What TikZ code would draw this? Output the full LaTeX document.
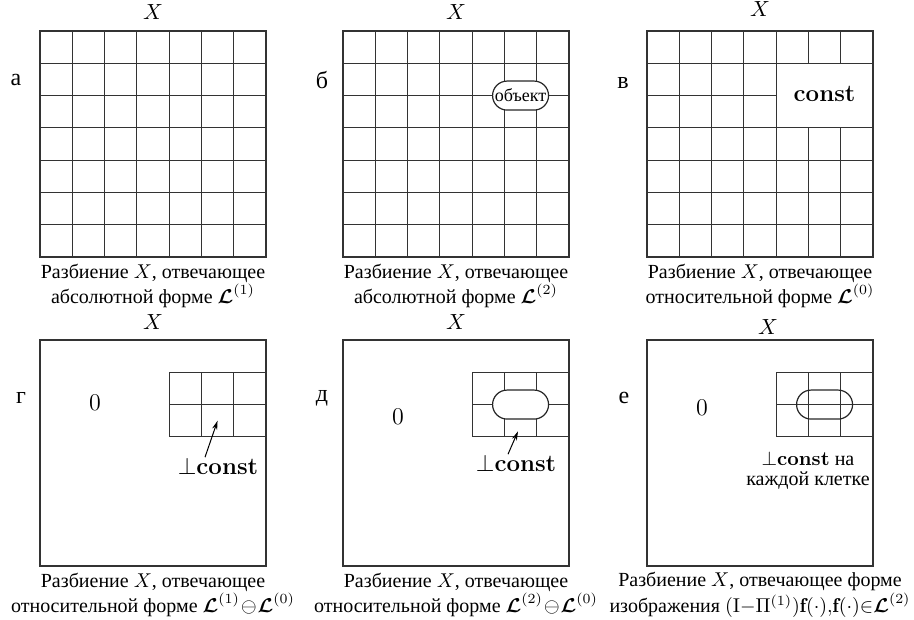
\documentclass[tikz,border=0pt]{standalone}
\usepackage{fontspec}
\usepackage{amsmath,amssymb,bm}
\newfontfamily\cyr{Liberation Serif}
\usetikzlibrary{shapes.misc,arrows.meta}
\newcommand{\bconst}{{\rmfamily\bfseries const}}
\newcommand{\bL}{\bm{\mathcal{L}}}
\begin{document}
\begin{tikzpicture}[x=0.5pt,y=-0.5pt,
  gridline/.style={line width=0.6pt, draw=black!80},
  xlbl/.style={font=\fontsize{11}{11}\selectfont, inner sep=0},
  lettr/.style={font=\cyr\fontsize{12}{12}\selectfont, inner sep=0},
  capt/.style={align=center, font=\cyr\fontsize{10}{10}\selectfont, inner sep=0},
  zero/.style={font=\fontsize{12}{12}\selectfont, inner sep=0},
  cstlbl/.style={font=\fontsize{12}{12}\selectfont, inner sep=0},
  capsule/.style={rounded rectangle, draw=black!85, line width=0.6pt, minimum width=30pt, minimum height=14.5pt, inner xsep=1pt, inner ysep=0pt},
  pointer/.style={-{Stealth[length=4.5pt,width=2.6pt]}, line width=0.5pt}]
\pgfmathsetmacro{\cellsz}{226/7}
\useasboundingbox (0,0) rectangle (914,620);
% ---------- panel a ----------
\begin{scope}[shift={(40,31)}]
  \draw[gridline] (0,0) rectangle (226,226);
  \foreach \i in {1,...,6} {
    \draw[gridline] (\i*\cellsz,0) -- (\i*\cellsz,226);
    \draw[gridline] (0,\i*\cellsz) -- (226,\i*\cellsz);
  }
\end{scope}
\node[xlbl] (xa) at (153,12) {$X$};
\node[lettr] (la) at (16,80) {а};
\node[capt] (ca) at (153,286) {Разбиение $X$, отвечающее\\абсолютной форме $\bL^{(1)}$};
% ---------- panel b ----------
\begin{scope}[shift={(343,31)}]
  \draw[gridline] (0,0) rectangle (226,226);
  \foreach \i in {1,...,6} {
    \draw[gridline] (\i*\cellsz,0) -- (\i*\cellsz,226);
    \draw[gridline] (0,\i*\cellsz) -- (226,\i*\cellsz);
  }
  \node[capsule, fill=white, font=\cyr\fontsize{9}{8}\selectfont] (obj) at (5.5*\cellsz,2*\cellsz) {объект};
\end{scope}
\node[xlbl] (xb) at (456,12) {$X$};
\node[lettr] (lb) at (322,80) {б};
\node[capt] (cb) at (456,286) {Разбиение $X$, отвечающее\\абсолютной форме $\bL^{(2)}$};
% ---------- panel v ----------
\begin{scope}[shift={(647,31)}]
  \draw[gridline] (0,0) rectangle (226,226);
  \foreach \i in {1,...,4} {
    \draw[gridline] (\i*\cellsz,0) -- (\i*\cellsz,226);
  }
  \foreach \i in {5,6} {
    \draw[gridline] (\i*\cellsz,0) -- (\i*\cellsz,\cellsz);
    \draw[gridline] (\i*\cellsz,3*\cellsz) -- (\i*\cellsz,226);
  }
  \foreach \i in {1,3,4,5,6} {
    \draw[gridline] (0,\i*\cellsz) -- (226,\i*\cellsz);
  }
  \draw[gridline] (0,2*\cellsz) -- (4*\cellsz,2*\cellsz);
  \node[cstlbl] (cv) at (5.5*\cellsz,1.95*\cellsz) {\bconst};
\end{scope}
\node[xlbl] (xv) at (760,9) {$X$};
\node[lettr] (lv) at (623,83) {в};
\node[capt] (cvv) at (760,286) {Разбиение $X$, отвечающее\\относительной форме $\bL^{(0)}$};
% ---------- panel g ----------
\begin{scope}[shift={(40,340)}]
  \draw[gridline] (0,0) rectangle (226,226);
  \draw[gridline] (4*\cellsz,\cellsz) rectangle (7*\cellsz,3*\cellsz);
  \foreach \i in {5,6} \draw[gridline] (\i*\cellsz,\cellsz) -- (\i*\cellsz,3*\cellsz);
  \draw[gridline] (4*\cellsz,2*\cellsz) -- (7*\cellsz,2*\cellsz);
  \coordinate (gtip) at (5.5*\cellsz,2.5*\cellsz);
\end{scope}
\node[xlbl] (xg) at (153,322) {$X$};
\node[lettr] (lg) at (21,398) {г};
\node[zero] (zg) at (95,403) {0};
\node[cstlbl] (kg) at (218,466) {$\perp$\bconst};
\draw[pointer] ([xshift=-6.5pt]kg.north) -- (gtip);
\node[capt] (cg) at (153,595) {Разбиение $X$, отвечающее\\относительной форме $\bL^{(1)}\!\ominus\!\bL^{(0)}$};
% ---------- panel d ----------
\begin{scope}[shift={(343,340)}]
  \draw[gridline] (0,0) rectangle (226,226);
  \draw[gridline] (4*\cellsz,\cellsz) rectangle (7*\cellsz,3*\cellsz);
  \foreach \i in {5,6} \draw[gridline] (\i*\cellsz,\cellsz) -- (\i*\cellsz,3*\cellsz);
  \draw[gridline] (4*\cellsz,2*\cellsz) -- (7*\cellsz,2*\cellsz);
  \node[capsule, fill=white] (capd) at (5.5*\cellsz,2*\cellsz) {};
  \coordinate (dtip) at (5.42*\cellsz,2.83*\cellsz);
\end{scope}
\node[xlbl] (xd) at (456,322) {$X$};
\node[lettr] (ld) at (322,398) {д};
\node[zero] (zd) at (398,417) {0};
\node[cstlbl] (kd) at (516,463) {$\perp$\bconst};
\draw[pointer] ([xshift=-4pt]kd.north) -- (dtip);
\node[capt] (cd) at (456,595) {Разбиение $X$, отвечающее\\относительной форме $\bL^{(2)}\!\ominus\!\bL^{(0)}$};
% ---------- panel e ----------
\begin{scope}[shift={(647,340)}]
  \draw[gridline] (0,0) rectangle (226,226);
  \draw[gridline] (4*\cellsz,\cellsz) rectangle (7*\cellsz,3*\cellsz);
  \foreach \i in {5,6} \draw[gridline] (\i*\cellsz,\cellsz) -- (\i*\cellsz,3*\cellsz);
  \draw[gridline] (4*\cellsz,2*\cellsz) -- (7*\cellsz,2*\cellsz);
  \node[capsule] (cape) at (5.5*\cellsz,2*\cellsz) {};
\end{scope}
\node[xlbl] (xe) at (768,327) {$X$};
\node[lettr] (le) at (624,398) {е};
\node[zero] (ze) at (702,408) {0};
\node[capt, font=\cyr\fontsize{10}{10}\selectfont] (ke) at (808,470) {$\perp$\bconst{} на\\каждой клетке};
\node[capt] (ce) at (760,595) {Разбиение $X$, отвечающее форме\\изображения $(\mathrm{I}{-}\Pi^{(1)})\mathbf{f}(\cdot){,}\mathbf{f}(\cdot){\in}\bL^{(2)}$};
\end{tikzpicture}
\end{document}
